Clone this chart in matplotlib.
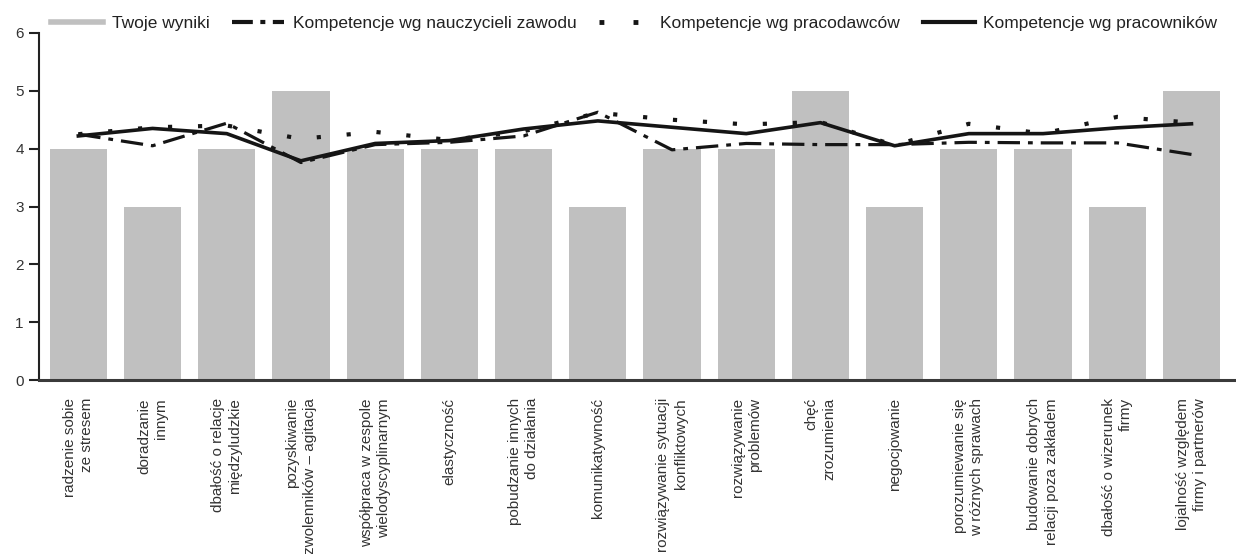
import matplotlib
matplotlib.use("Agg")
import matplotlib.pyplot as plt
import numpy as np

plt.rcParams["font.family"] = ["Liberation Sans", "DejaVu Sans"]

categories = [
    "radzenie sobie\nze stresem",
    "doradzanie\ninnym",
    "dbałość o relacje\nmiędzyludzkie",
    "pozyskiwanie\nzwolenników – agitacja",
    "współpraca w zespole\nwielodyscyplinarnym",
    "elastyczność",
    "pobudzanie innych\ndo działania",
    "komunikatywność",
    "rozwiązywanie sytuacji\nkonfliktowych",
    "rozwiązywanie\nproblemów",
    "chęć\nzrozumienia",
    "negocjowanie",
    "porozumiewanie się\nw różnych sprawach",
    "budowanie dobrych\nrelacji poza zakładem",
    "dbałość o wizerunek\nfirmy",
    "lojalność względem\nfirmy i partnerów",
]

twoje_wyniki = [4, 3, 4, 5, 4, 4, 4, 3, 4, 4, 5, 3, 4, 4, 3, 5]
nauczyciele = [4.25, 4.05, 4.44, 3.76, 4.07, 4.11, 4.22, 4.63, 3.98, 4.09,
               4.07, 4.07, 4.11, 4.10, 4.10, 3.90]
pracodawcy = [4.25, 4.37, 4.40, 4.17, 4.29, 4.15, 4.30, 4.62, 4.50, 4.42,
              4.46, 4.06, 4.43, 4.26, 4.55, 4.45]
pracownicy = [4.22, 4.35, 4.26, 3.79, 4.09, 4.14, 4.34, 4.48, 4.37, 4.26,
              4.45, 4.05, 4.26, 4.26, 4.36, 4.43]

fig = plt.figure(figsize=(12.36, 5.54), dpi=100)
ax = fig.add_axes([39 / 1236, 1 - 380 / 554, 1 - 39 / 1236, (380 - 33) / 554])

x = np.arange(len(categories))
bar_col = "#c0c0c0"
line_col = "#151515"

ax.bar(x, twoje_wyniki, width=0.77, color=bar_col, zorder=1)
ax.plot(x, nauczyciele, color=line_col, lw=2.3,
        dashes=(7, 2.5, 1.5, 2.5), zorder=3)
ax.plot(x, pracodawcy, color=line_col, lw=3.0, dashes=(1, 6.2),
        dash_capstyle="butt", zorder=3)
ax.plot(x, pracownicy, color=line_col, lw=2.6, zorder=4)

ax.set_ylim(0, 6)
ax.set_xlim(-0.53, 15.6)
ax.set_yticks(range(0, 7))
ax.set_xticks(x)
ax.set_xticklabels(categories, rotation=90, ha="center", va="top",
                   multialignment="right", fontsize=11, color="#333333",
                   linespacing=1.3)
ax.tick_params(axis="x", length=0, pad=13)
ax.tick_params(axis="y", length=7, width=1.5, color="#222222",
               labelsize=11, labelcolor="#333333", pad=4)

for side in ["top", "right"]:
    ax.spines[side].set_visible(False)
ax.spines["left"].set_linewidth(1.5)
ax.spines["left"].set_color("#222222")
ax.spines["bottom"].set_linewidth(2.2)
ax.spines["bottom"].set_color("#3a3a3a")

handles = [
    plt.Line2D([], [], color=bar_col, lw=4),
    plt.Line2D([], [], color=line_col, lw=3, dashes=(5, 1.8, 1.2, 1.8)),
    plt.Line2D([], [], color=line_col, lw=3.5, dashes=(1, 6), dash_capstyle="butt"),
    plt.Line2D([], [], color=line_col, lw=3),
]
labels = ["Twoje wyniki", "Kompetencje wg nauczycieli zawodu",
          "Kompetencje wg pracodawców", "Kompetencje wg pracowników"]
fig.legend(handles, labels, loc="upper right",
           bbox_to_anchor=(1226 / 1236, 1 - 7 / 554), borderpad=0,
           ncol=4, frameon=False, fontsize=12.5, handlelength=3.0,
           columnspacing=1.3, handletextpad=0.5, labelcolor="#222222")

fig.savefig("out.png", dpi=100)
